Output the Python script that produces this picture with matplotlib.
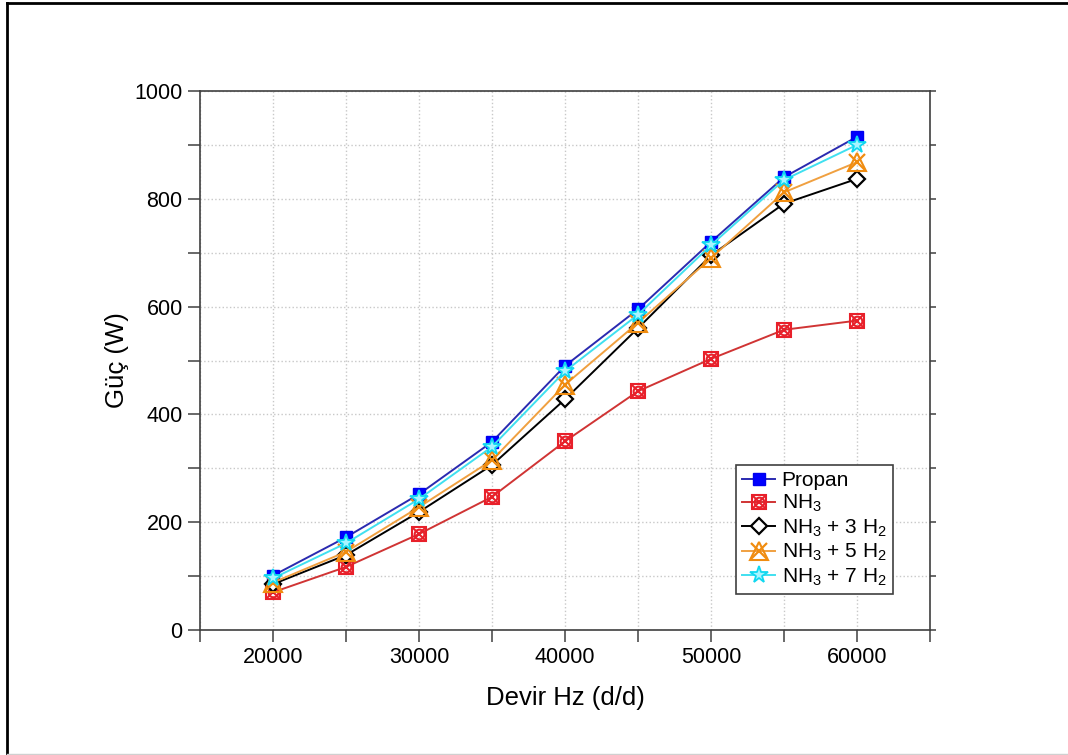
import matplotlib
matplotlib.use("Agg")
import matplotlib.pyplot as plt
from matplotlib.lines import Line2D
import numpy as np

plt.rcParams['font.family'] = ['Liberation Sans', 'DejaVu Sans']
plt.rcParams['mathtext.default'] = 'regular'

rpm = [20000, 25000, 30000, 35000, 40000, 45000, 50000, 55000, 60000]
propan = [101, 172, 252, 349, 490, 595, 720, 840, 915]
nh3 = [70, 117, 178, 247, 350, 443, 503, 557, 574]
nh3_3h2 = [85, 139, 219, 306, 428, 560, 695, 791, 837]
nh3_5h2 = [88, 145, 228, 315, 455, 570, 690, 812, 868]
nh3_7h2 = [96, 161, 243, 340, 480, 585, 714, 835, 900]

labels = ['Propan', 'NH$_3$', 'NH$_3$ + 3 H$_2$', 'NH$_3$ + 5 H$_2$', 'NH$_3$ + 7 H$_2$']

fig = plt.figure(figsize=(10.68, 7.55), dpi=100)
ax = fig.add_axes([200/1068, 125/755, 730/1068, 539/755])

# figure frame (left & top black border)
fig.add_artist(Line2D([7/1068, 7/1068], [0, 1 - 3/755], color='black', lw=2, transform=fig.transFigure))
fig.add_artist(Line2D([7/1068, 1], [1 - 3/755, 1 - 3/755], color='black', lw=2, transform=fig.transFigure))
fig.add_artist(Line2D([7/1068, 1], [1.5/755, 1.5/755], color='#d0d0d0', lw=1, transform=fig.transFigure))

ms = 9
# Propan
h1, = ax.plot(rpm, propan, color='#2a2ab0', lw=1.4, marker='s', ms=ms-0.5, mfc='#0000ff', mec='#0000ee', zorder=3)
# NH3 composite marker
h2, = ax.plot(rpm, nh3, color='#d03434', lw=1.4, marker='s', ms=ms+1, mfc='none', mec='#e8202a', mew=1.5, zorder=3)
h2b, = ax.plot(rpm, nh3, ls='none', marker='x', ms=ms, mec='#e8202a', mew=1.5, zorder=3)
h2c, = ax.plot(rpm, nh3, ls='none', marker='o', ms=ms-2, mfc='none', mec='#e8202a', mew=1.5, zorder=3)
# NH3 + 3 H2
h3, = ax.plot(rpm, nh3_3h2, color='black', lw=1.4, marker='D', ms=ms-0.5, mfc='white', mec='black', mew=1.6, zorder=3)
# NH3 + 5 H2
h4, = ax.plot(rpm, nh3_5h2, color='#f0a040', lw=1.4, marker='^', ms=ms+4, mfc='none', mec='#f08c10', mew=1.5, zorder=3)
h4b, = ax.plot(rpm, nh3_5h2, ls='none', marker='x', ms=ms+2, mec='#f08c10', mew=1.6, zorder=3)
# NH3 + 7 H2
h5, = ax.plot(rpm, nh3_7h2, color='#40e0f0', lw=1.4, marker='*', ms=ms+4, mfc='#a8f4ff', mec='#10d8f0', mew=1.3, zorder=3)

ax.set_xlim(15000, 65000)
ax.set_ylim(0, 1000)
ax.set_xticks(np.arange(15000, 65001, 5000))
ax.set_xticklabels(['' if v % 10000 else str(v) for v in range(15000, 65001, 5000)])
ax.set_yticks(np.arange(0, 1001, 100))
ax.set_yticklabels([str(v) if v % 200 == 0 else '' for v in range(0, 1001, 100)])
ax.tick_params(axis='both', direction='out', length=8.5, width=1.1, color='#404040', labelsize=15.5, pad=4)
ax.grid(True, color='#c8c8c8', linestyle=':', lw=1)
ax.set_axisbelow(True)
for s in ax.spines.values():
    s.set_color('#404040')
    s.set_linewidth(1.2)

# short outward ticks on the right spine
axr = ax.twinx()
axr.set_ylim(ax.get_ylim())
axr.set_yticks(np.arange(0, 1001, 100))
axr.set_yticklabels([])
axr.tick_params(axis='y', direction='out', length=4, width=1.1, color='#404040')
for s in axr.spines.values():
    s.set_visible(False)

ax.set_xlabel('Devir Hz (d/d)', fontsize=18.5, labelpad=13)
ax.set_ylabel('Güç (W)', fontsize=18.5, labelpad=4)

leg = ax.legend([h1, (h2, h2b, h2c), h3, (h4, h4b), h5], labels,
                loc='lower right', bbox_to_anchor=(0.949, 0.067), fontsize=15,
                frameon=True, fancybox=False, edgecolor='#404040', framealpha=1,
                handlelength=1.6, handletextpad=0.3, labelspacing=0.15, borderpad=0.3,
                borderaxespad=0)
leg.get_frame().set_linewidth(1.2)

fig.savefig('out.png', dpi=100)
